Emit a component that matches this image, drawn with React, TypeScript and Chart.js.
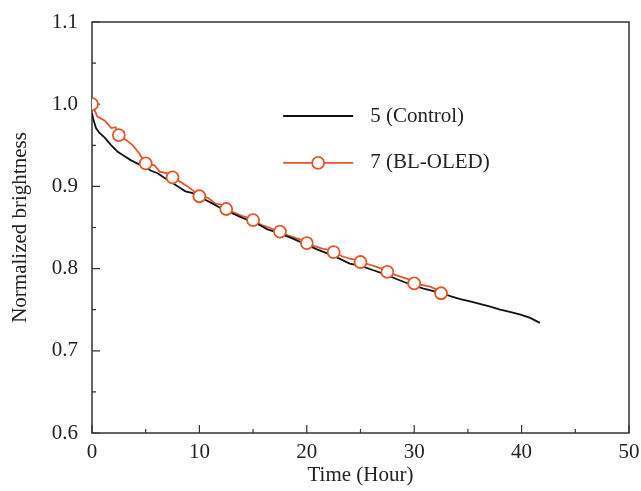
import React, { useEffect, useRef } from "react";
import { Chart, registerables } from "chart.js";

Chart.register(...registerables);

// ---- data ----
const controlTime = [0, 0.1, 0.37, 0.7, 1.2, 1.8, 2.4, 3.0, 3.6, 4.2, 4.9, 5.5, 6.1, 6.8, 7.4, 8.0, 8.7, 9.3, 9.9, 10.5, 11.1, 11.8, 12.4, 13.1, 13.8, 14.9, 15.6, 16.3, 17.4, 18.6, 19.8, 21.0, 22.4, 24.0, 25.1, 26.2, 27.3, 28.4, 29.6, 30.8, 31.7, 32.6, 33.5, 34.3, 35.2, 36.1, 37.0, 38.0, 39.0, 39.9, 40.8, 41.7];
const controlValue = [0.989, 0.983, 0.971, 0.965, 0.959, 0.950, 0.942, 0.937, 0.932, 0.928, 0.924, 0.919, 0.916, 0.910, 0.905, 0.900, 0.894, 0.892, 0.889, 0.884, 0.880, 0.875, 0.871, 0.867, 0.863, 0.857, 0.853, 0.848, 0.843, 0.837, 0.830, 0.823, 0.816, 0.806, 0.803, 0.798, 0.793, 0.787, 0.781, 0.776, 0.773, 0.770, 0.766, 0.763, 0.760, 0.757, 0.754, 0.750, 0.747, 0.744, 0.740, 0.734];

const bloledMarkerTime = [0, 2.5, 5, 7.5, 10, 12.5, 15, 17.5, 20, 22.5, 25, 27.5, 30, 32.5];
const bloledMarkerValue = [1.0, 0.9625, 0.928, 0.911, 0.888, 0.8725, 0.859, 0.845, 0.831, 0.820, 0.808, 0.796, 0.782, 0.770];

const bloledLineTime = [0, 0.5, 1.2, 1.8, 2.2, 2.5, 3.2, 3.8, 4.4, 5.0, 5.8, 6.3, 7.0, 7.5, 8.3, 8.9, 9.5, 10.0, 10.8, 11.5, 12.0, 12.5, 13.3, 14.0, 14.5, 15.0, 15.8, 16.5, 17.0, 17.5, 18.3, 19.0, 19.5, 20.0, 20.8, 21.5, 22.0, 22.5, 23.3, 24.0, 24.5, 25.0, 25.8, 26.5, 27.0, 27.5, 28.3, 29.0, 29.5, 30.0, 30.8, 31.5, 32.0, 32.5];
const bloledLineValue = [1.0, 0.985, 0.980, 0.971, 0.972, 0.9625, 0.956, 0.950, 0.940, 0.928, 0.926, 0.918, 0.916, 0.911, 0.905, 0.900, 0.894, 0.888, 0.886, 0.879, 0.878, 0.8725, 0.868, 0.864, 0.862, 0.859, 0.853, 0.850, 0.847, 0.845, 0.840, 0.837, 0.835, 0.831, 0.827, 0.824, 0.823, 0.820, 0.815, 0.812, 0.811, 0.808, 0.805, 0.802, 0.800, 0.796, 0.792, 0.789, 0.787, 0.782, 0.780, 0.778, 0.775, 0.770];

const xTickLabels = ["0", "10", "20", "30", "40", "50"];
const yTickLabels = ["0.6", "0.7", "0.8", "0.9", "1.0", "1.1"];
const legendLabels = ["5 (Control)", "7 (BL-OLED)"];

const ORANGE = "#e4552a";
const BLACK = "#111111";
const TEXT = "#222222";
const FONT = "'Liberation Serif', 'Times New Roman', serif";

const frameAndTicks = {
  id: "frameAndTicks",
  beforeDatasetsDraw(chart: any) {
    const { ctx, chartArea, scales } = chart;
    const { left, right, top, bottom } = chartArea;
    ctx.save();
    ctx.strokeStyle = "#333333";
    ctx.lineWidth = 1.5;
    ctx.strokeRect(left, top, right - left, bottom - top);
    ctx.lineWidth = 1.2;
    ctx.beginPath();
    for (const t of scales.x.ticks) {
      const px = scales.x.getPixelForValue(t.value);
      const major = Math.round(t.value) % 10 === 0;
      ctx.moveTo(px, bottom);
      ctx.lineTo(px, bottom - (major ? 8 : 4));
    }
    for (const t of scales.y.ticks) {
      const py = scales.y.getPixelForValue(t.value);
      const major = Math.round(t.value * 100) % 10 === 0;
      ctx.moveTo(left, py);
      ctx.lineTo(left + (major ? 8 : 4), py);
    }
    ctx.stroke();
    ctx.restore();
  },
  afterDatasetsDraw(chart: any) {
    const { ctx, chartArea, scales } = chart;
    const { left, right } = chartArea;
    ctx.save();
    const lx0 = left + (right - left) * 0.356;
    const lx1 = lx0 + 70;
    const ly0 = scales.y.getPixelForValue(0.9856);
    const ly1 = scales.y.getPixelForValue(0.9285);
    ctx.lineWidth = 2;
    ctx.strokeStyle = BLACK;
    ctx.beginPath();
    ctx.moveTo(lx0, ly0);
    ctx.lineTo(lx1, ly0);
    ctx.stroke();
    ctx.strokeStyle = ORANGE;
    ctx.lineWidth = 1.8;
    ctx.beginPath();
    ctx.moveTo(lx0, ly1);
    ctx.lineTo(lx1, ly1);
    ctx.stroke();
    ctx.beginPath();
    ctx.fillStyle = "#ffffff";
    ctx.arc((lx0 + lx1) / 2, ly1, 6, 0, Math.PI * 2);
    ctx.fill();
    ctx.stroke();
    ctx.fillStyle = TEXT;
    ctx.font = "21px " + FONT;
    ctx.textBaseline = "middle";
    ctx.textAlign = "left";
    ctx.fillText(legendLabels[0], lx1 + 17, ly0);
    ctx.fillText(legendLabels[1], lx1 + 17, ly1);
    ctx.restore();
  },
};

export default function App() {
  const canvasRef = useRef<HTMLCanvasElement | null>(null);

  useEffect(() => {
    const canvas = canvasRef.current;
    if (!canvas) return;
    const chart = new Chart(canvas, {
      type: "line",
      data: {
        datasets: [
          {
            label: legendLabels[1] + " markers",
            data: bloledMarkerTime.map((t, i) => ({ x: t, y: bloledMarkerValue[i] })),
            showLine: false,
            borderColor: ORANGE,
            backgroundColor: "#ffffff",
            pointRadius: 6,
            pointBorderWidth: 1.8,
            pointBackgroundColor: "#ffffff",
            pointBorderColor: ORANGE,
          },
          {
            label: legendLabels[0],
            data: controlTime.map((t, i) => ({ x: t, y: controlValue[i] })),
            borderColor: BLACK,
            borderWidth: 1.8,
            pointRadius: 0,
            tension: 0,
          },
          {
            label: legendLabels[1],
            data: bloledLineTime.map((t, i) => ({ x: t, y: bloledLineValue[i] })),
            borderColor: ORANGE,
            borderWidth: 1.8,
            pointRadius: 0,
            tension: 0,
          },
        ],
      },
      options: {
        animation: false,
        responsive: true,
        maintainAspectRatio: false,
        layout: { padding: { top: 22, right: 12, left: 0, bottom: 0 } },
        plugins: { legend: { display: false }, tooltip: { enabled: false } },
        scales: {
          x: {
            type: "linear",
            min: 0,
            max: 50,
            grid: { display: false, drawTicks: false },
            border: { display: false },
            ticks: {
              stepSize: 5,
              autoSkip: false,
              maxRotation: 0,
              padding: 7,
              color: TEXT,
              font: { family: FONT, size: 21 },
              callback: (v: any) => {
                const n = Math.round(Number(v));
                return n % 10 === 0 ? xTickLabels[n / 10] : "";
              },
            },
            title: {
              display: true,
              text: "Time (Hour)",
              color: TEXT,
              font: { family: FONT, size: 21 },
              padding: { top: 0, bottom: 3 },
            },
            afterFit: (s: any) => {
              s.height = 58;
              s.paddingRight = 0;
              s.paddingLeft = 0;
            },
          },
          y: {
            type: "linear",
            min: 0.6,
            max: 1.1,
            grid: { display: false, drawTicks: false },
            border: { display: false },
            ticks: {
              stepSize: 0.05,
              autoSkip: false,
              padding: 14,
              color: TEXT,
              font: { family: FONT, size: 21 },
              callback: (v: any) => {
                const n = Math.round(Number(v) * 100);
                return n % 10 === 0 ? yTickLabels[(n - 60) / 10] : "";
              },
            },
            title: {
              display: true,
              text: "Normalized brightness",
              color: TEXT,
              font: { family: FONT, size: 21 },
              padding: { top: 8, bottom: 0 },
            },
            afterFit: (s: any) => {
              s.width = 92;
              s.paddingTop = 0;
              s.paddingBottom = 0;
            },
          },
        },
      },
      plugins: [frameAndTicks],
    });
    return () => chart.destroy();
  }, []);

  return (
    <div style={{ position: "fixed", left: 0, top: 0, width: 641, height: 491, background: "#ffffff" }}>
      <canvas ref={canvasRef} />
    </div>
  );
}
